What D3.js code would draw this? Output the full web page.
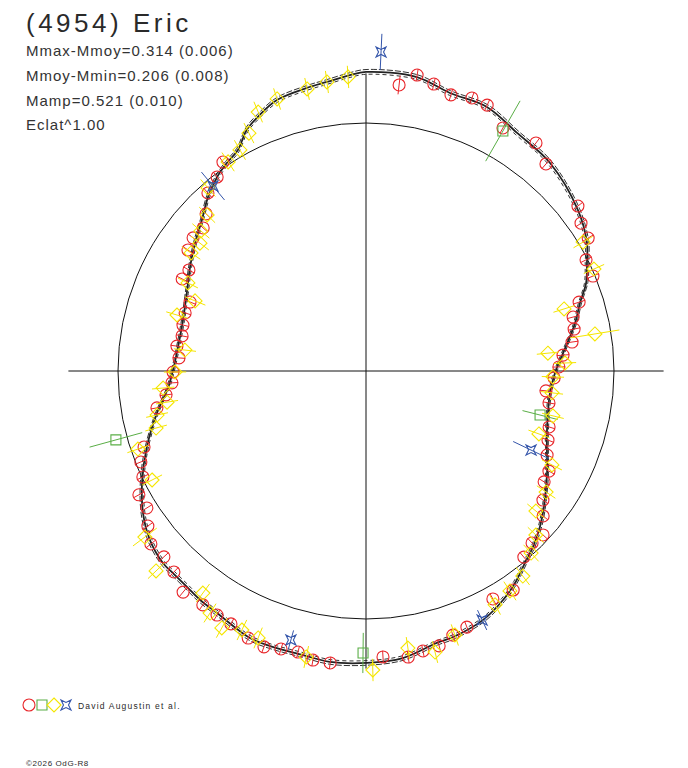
<!DOCTYPE html>
<html>
<head>
<meta charset="utf-8">
<script src="https://cdn.jsdelivr.net/npm/d3@7"></script>
<style>
  body { margin: 0; background: #fff; }
  svg { display: block; }
  text { font-family: Arial, "Liberation Sans", Helvetica, sans-serif; fill: #2a2a2a; }
</style>
</head>
<body>
<svg id="chart" width="688" height="768"></svg>
<script>
(function () {
  "use strict";

  // fitted lightcurve: phase (deg, clockwise from top) and flux relative to mean
  const curvePhase = [0, 9.8, 16.8, 24.6, 32.4, 41.5, 52.8, 59.9, 63.7, 68.2,
    72.4, 77.1, 84.8, 90.6, 96.8, 103, 108.9, 115.4, 119.4, 127.4,
    131.9, 136.5, 140.4, 144.9, 149.1, 154.8, 161.9, 165.4, 172.7, 179.8,
    187.1, 192.5, 199.2, 203.5, 211.6, 215.9, 219.6, 223.7, 226.6, 232,
    237.5, 244, 250.9, 258.6, 265.1, 270.3, 277.3, 285.6, 293.5, 300.6,
    306.8, 312.6, 317.8, 322.5, 326.2, 329.9, 333.7, 337.1, 341.8, 348.2,
    352.3, 356.9]
  const curveFlux = [1.206, 1.203, 1.171, 1.171, 1.137, 1.120, 1.073, 1.030, 0.994, 0.956,
    0.905, 0.865, 0.798, 0.762, 0.747, 0.753, 0.771, 0.808, 0.838, 0.903,
    0.942, 0.978, 1.005, 1.045, 1.076, 1.109, 1.129, 1.133, 1.167, 1.177,
    1.182, 1.173, 1.175, 1.174, 1.146, 1.140, 1.131, 1.127, 1.127, 1.106,
    1.066, 1.004, 0.935, 0.860, 0.801, 0.778, 0.764, 0.766, 0.788, 0.824,
    0.861, 0.899, 0.948, 0.986, 1.009, 1.030, 1.085, 1.115, 1.150, 1.166,
    1.176, 1.195]
  const curveBand = 0.008

  // observations: [phase deg, flux, error]
  const redObs = [[9.8,1.211],[6.6,1.161,0.038],[13.3,1.189],[17.1,1.165],[21.2,1.181],[24.5,1.178],
    [29.4,1.125],[36.7,1.147],[41.0,1.106],[52.1,1.083],[55.5,1.052],[59.1,1.044],[63.2,0.994],
    [67.3,0.992],[72.1,0.903],[75.4,0.863],[78.6,0.856],[82.0,0.839],[85.4,0.797],[88.8,0.778],
    [92.1,0.759],[96.3,0.730],[99.9,0.749],[107.0,0.772],[110.8,0.785],[114.9,0.805],[118.7,0.841],
    [121.9,0.846],[126.1,0.883],[129.3,0.923],[132.8,0.973],[136.0,0.964],[139.7,0.984],[146.1,1.064],
    [150.9,1.052],[158.5,1.110],[161.8,1.121],[165.1,1.147],[168.5,1.152],[171.6,1.166],[176.6,1.155],
    [187.0,1.186],[190.4,1.185],[193.6,1.166],[197.0,1.172],[200.3,1.186],[203.8,1.177],[208.1,1.156],
    [211.4,1.153],[214.9,1.150],[219.6,1.157],[223.7,1.121],[227.4,1.107],[231.2,1.113],[234.6,1.079],
    [238.0,1.042],[241.4,1.043],[244.6,0.996],[248.0,0.979],[251.1,0.946],[260.0,0.856],[263.2,0.812],
    [266.5,0.784],[269.7,0.778],[274.0,0.756],[277.5,0.769],[280.8,0.755],[284.1,0.761],[287.8,0.766],
    [291.4,0.762],[296.6,0.829],[299.7,0.822],[304.2,0.868],[307.6,0.880],[311.3,0.874],[314.5,0.904],
    [318.4,0.960],[322.5,0.986],[325.6,1.021]]
  const greenObs = [[29.7,1.114,0.14],[254.6,1.046,0.11],[104.2,0.724,0.073],[180.6,1.137,0.081]]
  const yellowObs = [[356.5,1.188],[352.3,1.176],[348.2,1.162],[341.9,1.154],[337.4,1.131],[333.8,1.069],
    [330.3,1.026],[326.6,1.010],[319.2,0.975],[314.5,0.898],[310.3,0.873],[307.6,0.845],[304.0,0.851],
    [296.3,0.801],[292.3,0.745],[286.5,0.795],[276.6,0.735],[269.7,0.770],[265.2,0.821],[261.1,0.812],
    [258.1,0.861],[254.8,0.877],[251.1,0.972],[243.0,0.968],[233.1,1.115,0.06],[226.4,1.169],[216.3,1.111],
    [212.8,1.161],[209.3,1.188],[205.6,1.158],[202.0,1.161],[191.8,1.178],[178.7,1.206],[171.4,1.130],
    [166.2,1.167],[161.4,1.123],[151.1,1.077],[146.8,1.060],[142.6,1.041],[137.8,0.991],[134.0,0.952],
    [129.5,0.888],[123.9,0.875],[116.8,0.840],[110.0,0.742],[103.5,0.775],[96.7,0.755],[91.8,0.754],
    [87.7,0.803],[84.4,0.737],[80.8,0.935,0.1],[72.6,0.837],[65.9,1.007],[59.3,1.018]]
  const blueObs = [[2.7,1.288,0.073],[320.4,0.968,0.073],[115.6,0.738,0.08],[155.0,1.108,0.044],[195.6,1.126,0.04]]

  const titleText = "(4954) Eric"
  const statLines = ["Mmax-Mmoy=0.314 (0.006)", "Mmoy-Mmin=0.206 (0.008)", "Mamp=0.521 (0.010)", "Eclat^1.00"]
  const legendText = "David Augustin et al."
  const creditText = "\u00a92026 OdG-R8"

  const svg = d3.select("#chart")
  const cx = 366, cy = 371
  const rScale = d3.scaleLinear().domain([0, 1]).range([0, 248])
  const aScale = d3.scaleLinear().domain([0, 360]).range([0, 2 * Math.PI])

  function pos(ph, fl) {
    let a = aScale(ph), r = rScale(fl)
    return [cx + r * Math.sin(a), cy - r * Math.cos(a)]
  }

  // axes and mean circle
  const axisLen = rScale(1.2)
  svg.append("line").attr("x1", cx - axisLen).attr("x2", cx + axisLen)
    .attr("y1", cy).attr("y2", cy).attr("stroke", "#111").attr("stroke-width", 1)
  svg.append("line").attr("x1", cx).attr("x2", cx)
    .attr("y1", cy - axisLen).attr("y2", cy + axisLen).attr("stroke", "#111").attr("stroke-width", 1)
  svg.append("circle").attr("cx", cx).attr("cy", cy).attr("r", rScale(1))
    .attr("fill", "none").attr("stroke", "#111").attr("stroke-width", 1)

  // curve + uncertainty band
  const g = svg.append("g").attr("transform", `translate(${cx},${cy})`)
  const curveData = curvePhase.map((p, i) => [aScale(p), curveFlux[i]])
  const radial = k => d3.lineRadial()
    .angle(d => d[0]).radius(d => rScale(d[1] * k))
    .curve(d3.curveCatmullRomClosed)
  g.append("path").attr("d", radial(1 + curveBand)(curveData))
    .attr("fill", "none").attr("stroke", "#333").attr("stroke-width", 1).attr("stroke-dasharray", "6,2")
  g.append("path").attr("d", radial(1 - curveBand)(curveData))
    .attr("fill", "none").attr("stroke", "#333").attr("stroke-width", 1).attr("stroke-dasharray", "4,3")
  g.append("path").attr("d", radial(1)(curveData))
    .attr("fill", "none").attr("stroke", "#222").attr("stroke-width", 1.8)

  // marker shapes
  const shapes = {
    circle: "M6,0A6,6 0 1,1 -6,0A6,6 0 1,1 6,0Z",
    square: "M-5,-5H5V5H-5Z",
    diamond: "M0,-7L7,0L0,7L-7,0Z",
    star: "M-5,-5L0,-2.5L5,-5L2.5,0L5,5L0,2.5L-5,5L-2.5,0Z"
  }

  function drawSet(data, color, shape, defErr) {
    let grp = svg.append("g")
    for (let d of data) {
      let err = d[2] !== undefined ? d[2] : defErr
      let p0 = pos(d[0], d[1] - err), p1 = pos(d[0], d[1] + err)
      grp.append("line").attr("x1", p0[0]).attr("y1", p0[1]).attr("x2", p1[0]).attr("y2", p1[1])
        .attr("stroke", color).attr("stroke-width", 1)
      let p = pos(d[0], d[1])
      grp.append("path").attr("d", shapes[shape])
        .attr("transform", `translate(${p[0]},${p[1]})`)
        .attr("fill", "none").attr("stroke", color).attr("stroke-width", 1.1)
    }
  }

  drawSet(redObs, "#e8262a", "circle", 0.025)
  drawSet(greenObs, "#5aae46", "square", 0.05)
  drawSet(yellowObs, "#f5e600", "diamond", 0.045)
  drawSet(blueObs, "#3455aa", "star", 0.05)

  // texts
  svg.append("text").attr("x", 26).attr("y", 32).attr("font-size", 26)
    .attr("letter-spacing", 3.5).text(titleText)
  svg.selectAll("text.stat").data(statLines).join("text")
    .attr("class", "stat").attr("x", 26).attr("y", (d, i) => 56 + i * 24.8)
    .attr("font-size", 15).attr("letter-spacing", 1).style("fill", "#333").text(d => d)

  // legend
  const legendColors = ["#e8262a", "#5aae46", "#f5e600", "#3455aa"]
  const legendShapes = ["circle", "square", "diamond", "star"]
  const legendX = [29, 42, 54, 66]
  svg.selectAll("path.leg").data(legendShapes).join("path")
    .attr("class", "leg").attr("d", d => shapes[d])
    .attr("transform", (d, i) => `translate(${legendX[i]},705)`)
    .attr("fill", "none").attr("stroke", (d, i) => legendColors[i]).attr("stroke-width", 1.1)
  svg.append("text").attr("x", 78).attr("y", 709).attr("font-size", 8.5)
    .attr("letter-spacing", 1.2).text(legendText)
  svg.append("text").attr("x", 26).attr("y", 766).attr("font-size", 8)
    .attr("letter-spacing", 0.6).text(creditText)
})();
</script>
</body>
</html>
